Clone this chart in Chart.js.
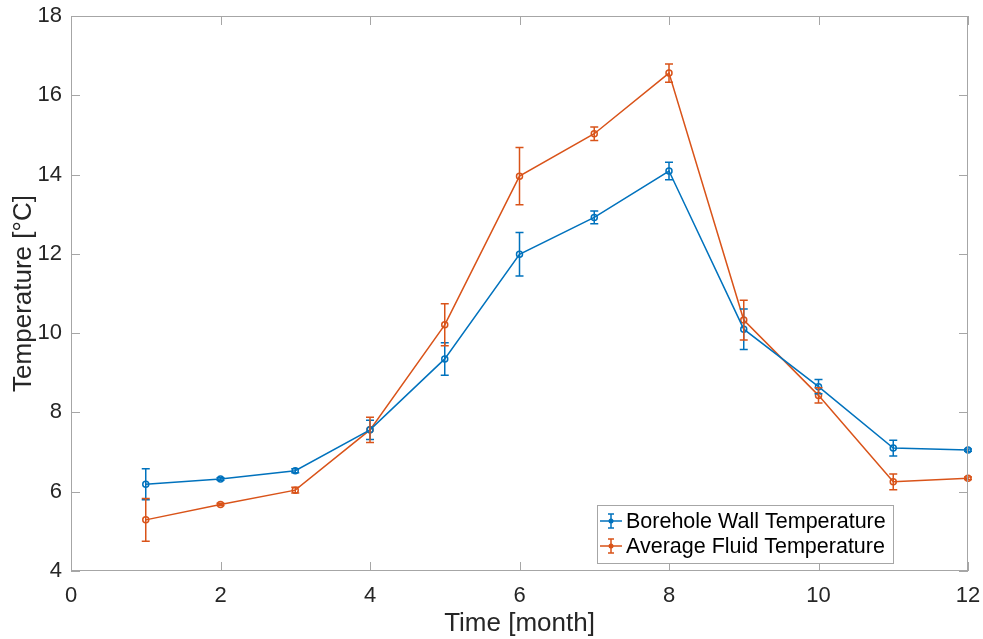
<!DOCTYPE html>
<html>
<head>
<meta charset="utf-8">
<script src="https://cdn.jsdelivr.net/npm/chart.js@4/dist/chart.umd.min.js"></script>
<style>
  body { margin: 0; background: #fff; }
  #wrap { width: 983px; height: 639px; }
</style>
</head>
<body>
<div id="wrap"><canvas id="tempChart" width="983" height="639"></canvas></div>
<script>
const months = [1, 2, 3, 4, 5, 6, 7, 8, 9, 10, 11, 12];
const boreholeTemp = [6.19, 6.32, 6.53, 7.56, 9.35, 11.99, 12.92, 14.09, 10.10, 8.65, 7.10, 7.05];
const boreholeErr = [0.39, 0.03, 0.05, 0.24, 0.41, 0.55, 0.16, 0.22, 0.51, 0.18, 0.20, 0.03];
const fluidTemp = [5.29, 5.68, 6.04, 7.56, 10.21, 13.96, 15.03, 16.56, 10.33, 8.43, 6.25, 6.34];
const fluidErr = [0.54, 0.03, 0.07, 0.32, 0.53, 0.72, 0.17, 0.23, 0.50, 0.19, 0.20, 0.03];
const xTicks = [0, 2, 4, 6, 8, 10, 12];
const yTicks = [4, 6, 8, 10, 12, 14, 16, 18];

const blue = '#0072BD';
const orange = '#D95319';
const axisGray = '#a6a6a6';
const textColor = '#262626';
const fontFamily = '"Liberation Sans", Arial, sans-serif';

function toPoints(vals) {
  return months.map((m, i) => ({ x: m, y: vals[i] }));
}

// error bars, box frame, inward ticks and the legend box
const matlabLook = {
  id: 'matlabLook',
  afterDatasetsDraw(chart) {
    const ctx = chart.ctx;
    const x = chart.scales.x;
    const y = chart.scales.y;
    const errs = [boreholeErr, fluidErr];
    ctx.save();
    chart.data.datasets.forEach((ds, di) => {
      ctx.strokeStyle = ds.borderColor;
      ctx.lineWidth = 1.5;
      ds.data.forEach((p, i) => {
        const px = x.getPixelForValue(p.x);
        const top = y.getPixelForValue(p.y + errs[di][i]);
        const bot = y.getPixelForValue(p.y - errs[di][i]);
        ctx.beginPath();
        ctx.moveTo(px, top); ctx.lineTo(px, bot);
        ctx.moveTo(px - 4, top); ctx.lineTo(px + 4, top);
        ctx.moveTo(px - 4, bot); ctx.lineTo(px + 4, bot);
        ctx.stroke();
      });
    });

    const a = chart.chartArea;
    ctx.strokeStyle = axisGray;
    ctx.lineWidth = 1;
    ctx.strokeRect(a.left + 0.5, a.top + 0.5, a.right - a.left - 1, a.bottom - a.top - 1);
    ctx.beginPath();
    xTicks.forEach(v => {
      const px = Math.round(x.getPixelForValue(v)) + 0.5;
      ctx.moveTo(px, a.bottom); ctx.lineTo(px, a.bottom - 9);
      ctx.moveTo(px, a.top); ctx.lineTo(px, a.top + 9);
    });
    yTicks.forEach(v => {
      const py = Math.round(y.getPixelForValue(v)) + 0.5;
      ctx.moveTo(a.left, py); ctx.lineTo(a.left + 9, py);
      ctx.moveTo(a.right, py); ctx.lineTo(a.right - 9, py);
    });
    ctx.stroke();

    // legend
    const lx = 597, ly = 505, lw = 296, lh = 58;
    ctx.fillStyle = '#fff';
    ctx.fillRect(lx, ly, lw, lh);
    ctx.strokeStyle = axisGray;
    ctx.strokeRect(lx + 0.5, ly + 0.5, lw, lh);
    ctx.font = '21.5px ' + fontFamily;
    ctx.textBaseline = 'middle';
    chart.data.datasets.forEach((ds, di) => {
      const cy = ly + 16 + di * 25;
      const cx = lx + 14;
      ctx.strokeStyle = ds.borderColor;
      ctx.fillStyle = ds.borderColor;
      ctx.lineWidth = 1.5;
      ctx.beginPath();
      ctx.moveTo(lx + 3, cy); ctx.lineTo(lx + 25, cy);
      ctx.moveTo(cx, cy - 7); ctx.lineTo(cx, cy + 7);
      ctx.moveTo(cx - 3, cy - 7); ctx.lineTo(cx + 3, cy - 7);
      ctx.moveTo(cx - 3, cy + 7); ctx.lineTo(cx + 3, cy + 7);
      ctx.stroke();
      ctx.beginPath();
      ctx.arc(cx, cy, 2.5, 0, Math.PI * 2);
      ctx.fill();
      ctx.fillStyle = '#000';
      ctx.fillText(ds.label, lx + 29, cy + 1);
    });
    ctx.restore();
  }
};

function dataset(label, vals, color) {
  return {
    label: label,
    data: toPoints(vals),
    borderColor: color,
    backgroundColor: 'rgba(255,255,255,0)',
    borderWidth: 1.5,
    pointRadius: 3,
    pointBorderWidth: 1.5,
    pointBorderColor: color,
    pointBackgroundColor: 'rgba(255,255,255,0)',
    tension: 0,
    clip: false
  };
}

const chart = new Chart(document.getElementById('tempChart'), {
  type: 'line',
  data: {
    datasets: [
      dataset('Borehole Wall Temperature', boreholeTemp, blue),
      dataset('Average Fluid Temperature', fluidTemp, orange)
    ]
  },
  options: {
    responsive: false,
    animation: false,
    layout: { padding: { left: 0, right: 15, top: 16, bottom: 0 } },
    plugins: {
      legend: { display: false },
      tooltip: { enabled: false }
    },
    scales: {
      x: {
        type: 'linear',
        min: 0,
        max: 12,
        afterBuildTicks: s => { s.ticks = xTicks.map(v => ({ value: v })); },
        afterFit: s => { s.height = 68; s.paddingLeft = 0; s.paddingRight = 0; },
        grid: { display: false },
        border: { display: false },
        ticks: {
          color: textColor,
          padding: 4,
          maxRotation: 0,
          font: { family: fontFamily, size: 22 }
        },
        title: {
          display: true,
          text: 'Time [month]',
          color: textColor,
          padding: { top: 0, bottom: 0 },
          font: { family: fontFamily, size: 26 }
        }
      },
      y: {
        min: 4,
        max: 18,
        afterBuildTicks: s => { s.ticks = yTicks.map(v => ({ value: v })); },
        afterFit: s => { s.width = 71; s.paddingTop = 0; s.paddingBottom = 0; },
        grid: { display: false },
        border: { display: false },
        ticks: {
          color: textColor,
          padding: 1,
          font: { family: fontFamily, size: 22 }
        },
        title: {
          display: true,
          text: 'Temperature [°C]',
          color: textColor,
          padding: { top: 8, bottom: 0 },
          font: { family: fontFamily, size: 26 }
        }
      }
    }
  },
  plugins: [matlabLook]
});
</script>
</body>
</html>
